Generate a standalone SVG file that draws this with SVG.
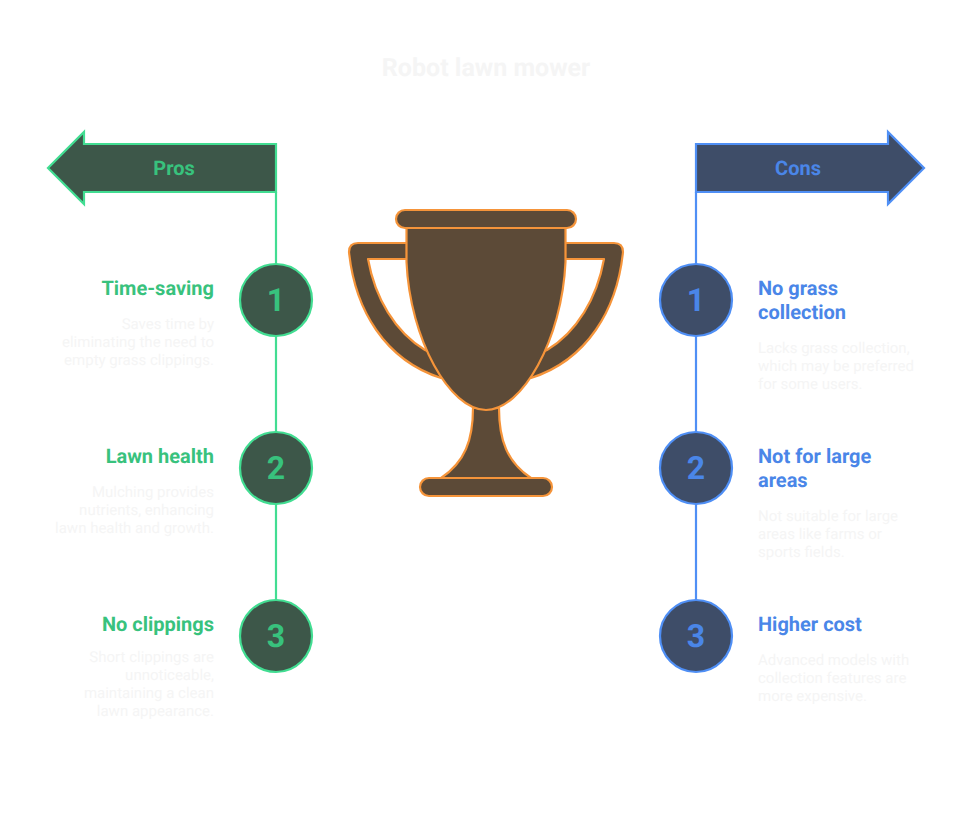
<svg xmlns="http://www.w3.org/2000/svg" width="972" height="816" viewBox="0 0 972 816">
<style>
text{font-family:Roboto,"Liberation Sans",sans-serif;text-rendering:geometricPrecision}
.title{font-size:25px;font-weight:700;fill:#f5f5f5;text-anchor:middle}
.h{font-size:20px;font-weight:700}
.d{font-size:15px;font-weight:400;fill:#f5f5f5}
.l{text-anchor:end}
.banner{font-size:20px;font-weight:700;text-anchor:middle}
.n{font-size:32px;font-weight:700;text-anchor:middle}
.g{fill:#38c27d}
.b{fill:#4a86e8}
.gs{fill:#3d5749;stroke:#42dd92;stroke-width:2.2}
.bs{fill:#3e4d68;stroke:#4f8ff5;stroke-width:2.2}
.line{fill:none;stroke-width:2.2}
.t{fill:#5c4a37;stroke:#f5943a;stroke-width:2.2;stroke-linejoin:round}
</style>
<rect width="972" height="816" fill="#ffffff"/>
<text class="title" x="486" y="76">Robot lawn mower</text>
<g id="connectors">
<path class="line" stroke="#42dd92" d="M276 192V600"/>
<path class="line" stroke="#4f8ff5" d="M696 192V600"/>
</g>
<g id="pros-banner">
<path class="gs" d="M276 144V192H84V204L48 168L84 132V144Z"/>
<text class="banner g" x="174" y="175">Pros</text>
</g>
<g id="cons-banner">
<path class="bs" d="M696 144V192H888V204L924 168L888 132V144Z"/>
<text class="banner b" x="798" y="175">Cons</text>
</g>
<g id="trophy">
<path class="t" d="M407 243H358Q349 243 349 252C355 310 385 360 441 378L470 370L425 350C395 332 375 298 368 259H407Z"/>
<path class="t" d="M565 243H614Q623 243 623 252C617 310 587 360 531 378L502 370L547 350C577 332 597 298 604 259H565Z"/>
<path class="t" d="M473 408C473 440 465 462 441 478H531C507 462 499 440 499 408Z"/>
<rect class="t" x="420" y="478" width="132" height="18" rx="9"/>
<path class="t" d="M406.5 228H565.5V262C562 340 522 410 486 410C450 410 410 340 406.5 262Z"/>
<rect class="t" x="396" y="210" width="180" height="18" rx="9"/>
</g>
<g id="pro-1">
<circle class="gs" cx="276" cy="300" r="36"/>
<text class="n g" x="276" y="311">1</text>
<text class="h g l" x="214" y="295">Time-saving</text>
<text class="d l" x="214" y="329">Saves time by</text>
<text class="d l" x="214" y="347">eliminating the need to</text>
<text class="d l" x="214" y="365">empty grass clippings.</text>
</g>
<g id="pro-2">
<circle class="gs" cx="276" cy="468" r="36"/>
<text class="n g" x="276" y="479">2</text>
<text class="h g l" x="214" y="463">Lawn health</text>
<text class="d l" x="214" y="497">Mulching provides</text>
<text class="d l" x="214" y="515">nutrients, enhancing</text>
<text class="d l" x="214" y="533">lawn health and growth.</text>
</g>
<g id="pro-3">
<circle class="gs" cx="276" cy="636" r="36"/>
<text class="n g" x="276" y="647">3</text>
<text class="h g l" x="214" y="631">No clippings</text>
<text class="d l" x="214" y="662">Short clippings are</text>
<text class="d l" x="214" y="680">unnoticeable,</text>
<text class="d l" x="214" y="698">maintaining a clean</text>
<text class="d l" x="214" y="716">lawn appearance.</text>
</g>
<g id="con-1">
<circle class="bs" cx="696" cy="300" r="36"/>
<text class="n b" x="696" y="311">1</text>
<text class="h b" x="758" y="295">No grass</text>
<text class="h b" x="758" y="319">collection</text>
<text class="d" x="758" y="353">Lacks grass collection,</text>
<text class="d" x="758" y="371">which may be preferred</text>
<text class="d" x="758" y="389">for some users.</text>
</g>
<g id="con-2">
<circle class="bs" cx="696" cy="468" r="36"/>
<text class="n b" x="696" y="479">2</text>
<text class="h b" x="758" y="463">Not for large</text>
<text class="h b" x="758" y="487">areas</text>
<text class="d" x="758" y="521">Not suitable for large</text>
<text class="d" x="758" y="539">areas like farms or</text>
<text class="d" x="758" y="557">sports fields.</text>
</g>
<g id="con-3">
<circle class="bs" cx="696" cy="636" r="36"/>
<text class="n b" x="696" y="647">3</text>
<text class="h b" x="758" y="631">Higher cost</text>
<text class="d" x="758" y="665">Advanced models with</text>
<text class="d" x="758" y="683">collection features are</text>
<text class="d" x="758" y="701">more expensive.</text>
</g>
</svg>
